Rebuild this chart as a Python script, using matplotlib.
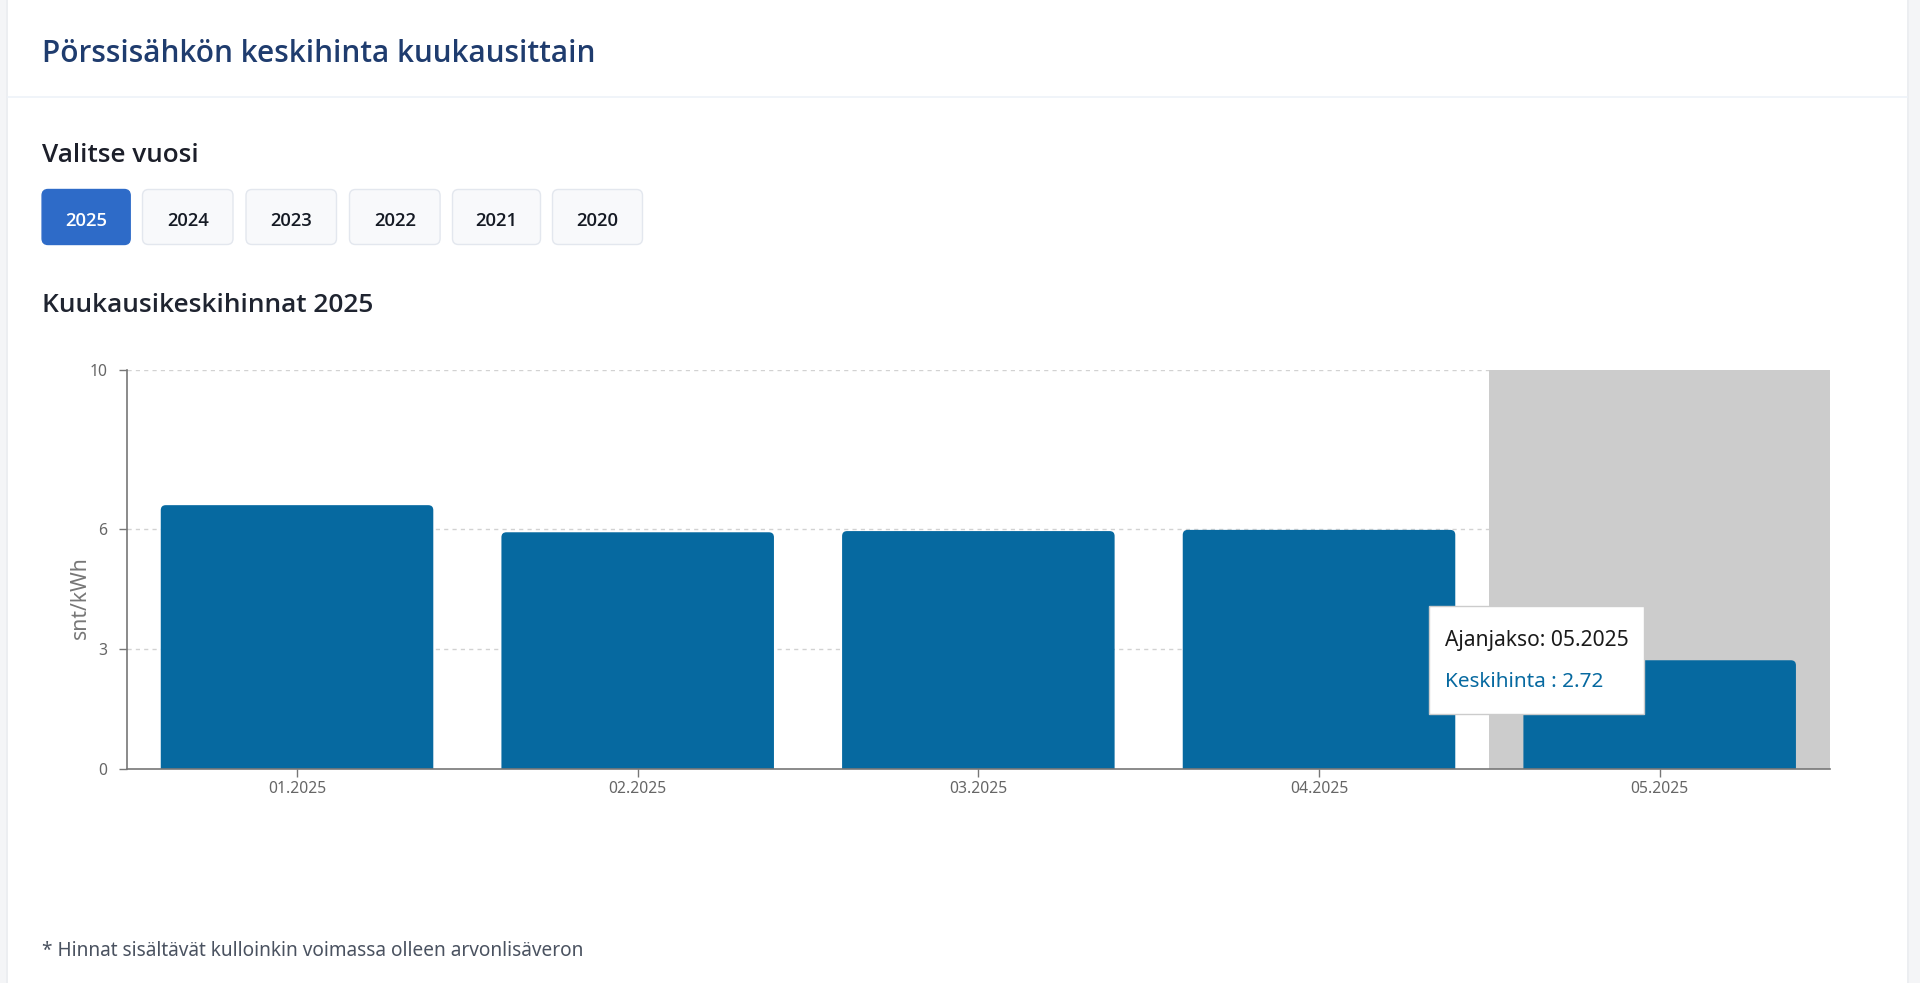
import matplotlib
matplotlib.use("Agg")
import matplotlib.pyplot as plt
from matplotlib import font_manager as fm
from matplotlib.patches import FancyBboxPatch, Rectangle

plt.rcParams['font.family'] = ['Noto Sans', 'DejaVu Sans']

# Monthly average spot price, c/kWh (VAT included)
months = ["01.2025", "02.2025", "03.2025", "04.2025", "05.2025"]
avg_price = [6.61, 5.93, 5.96, 5.99, 2.72]
y_ticks = [0, 3, 6, 10]
years = ["2025", "2024", "2023", "2022", "2021", "2020"]
selected_year = "2025"
active_month = "05.2025"

page_title = "Pörssisähkön keskihinta kuukausittain"
year_label = "Valitse vuosi"
chart_title = f"Kuukausikeskihinnat {selected_year}"
unit_label = "snt/kWh"
footnote = "* Hinnat sisältävät kulloinkin voimassa olleen arvonlisäveron"

BAR = "#0669a0"
GREY_TXT = "#666666"


def pick_semibold():
    """Return (family, weight) for a semibold face if one is installed."""
    for fam in ["Noto Sans", "Open Sans", "Lato", "Inter", "Roboto"]:
        for f in fm.fontManager.ttflist:
            w = f.weight if isinstance(f.weight, int) else fm.weight_dict.get(f.weight, 400)
            if f.name == fam and f.style == "normal" and 560 <= w <= 640:
                return fam, w
    return "Noto Sans", "bold"


SB_FAM, SB_W = pick_semibold()
SB = dict(family=[SB_FAM, "DejaVu Sans"], fontweight=SB_W)

W, H = 1920, 983
fig = plt.figure(figsize=(W / 100, H / 100), dpi=100)
fig.patch.set_facecolor("#f4f5f7")
renderer = fig.canvas.get_renderer()


def fit_width(t, target):
    w = t.get_window_extent(renderer).width
    t.set_fontsize(t.get_fontsize() * target / w)
    return t


# ---- page layer (pixel coordinates, y down) ----
bg = fig.add_axes([0, 0, 1, 1], zorder=0)
bg.set_xlim(0, W)
bg.set_ylim(H, 0)
bg.axis("off")
bg.add_patch(Rectangle((6, 0), 1903, H, facecolor="#eceef1", lw=0))
bg.add_patch(Rectangle((8, 0), 1898.7, H, facecolor="white", lw=0))
bg.plot([8, 1906.7], [96.7, 96.7], color="#edf2f8", lw=1.2)

t = bg.text(41.6, 61.7, page_title, color="#1f3c6e", fontsize=22,
            va="baseline", ha="left", **SB)
fit_width(t, 551)
t = bg.text(41.6, 161.7, year_label, color="#1c1f2a", fontsize=14,
            va="baseline", ha="left", **SB)
fit_width(t, 158)

btn_x = [(41.6, 130.7), (142, 233.5), (245.5, 337), (349, 440.6), (452, 541), (552, 643)]
for yr, (x0, x1) in zip(years, btn_x):
    active = yr == selected_year
    bg.add_patch(FancyBboxPatch((x0 + 0.5, 189.5), x1 - x0 - 1, 55,
                                boxstyle="round,pad=0,rounding_size=6",
                                facecolor="#2e6bc8" if active else "#f8f9fb",
                                edgecolor="#2e6bc8" if active else "#e3e7ee",
                                lw=1))
    t = bg.text((x0 + x1) / 2, 225.7, yr, color="white" if active else "#151a24",
                fontsize=13, ha="center", va="baseline", **SB)
    fit_width(t, 42)

t = bg.text(41.6, 311.7, chart_title, color="#1f2430", fontsize=17,
            va="baseline", ha="left", **SB)
fit_width(t, 332)

t = bg.text(80, 598, unit_label, color="#777777", fontsize=13, rotation=90,
            ha="center", va="center")
ext = t.get_window_extent(renderer)
t.set_fontsize(t.get_fontsize() * 83 / ext.height)

t = bg.text(41.6, 956, footnote, color="#4a5260", fontsize=12,
            va="baseline", ha="left")
fit_width(t, 540)

# ---- chart ----
ax_l, ax_r, ax_t, ax_b = 126.7, 1830, 370, 768.7
ax = fig.add_axes([ax_l / W, 1 - ax_b / H, (ax_r - ax_l) / W, (ax_b - ax_t) / H], zorder=1)
ax.patch.set_alpha(0)
ax.set_xlim(-0.5, len(months) - 0.5)
ax.set_ylim(0, 10)

idx = months.index(active_month)
ax.axvspan(idx - 0.5, idx + 0.5, color="#cccccc", lw=0, zorder=1)
for v in y_ticks[1:]:
    ax.axhline(v, color="#d2d2d2", lw=1, ls=(0, (3, 3)), zorder=0.5)

xs = list(range(len(months)))
bars = ax.bar(xs, avg_price, width=0.8, color=BAR, zorder=2)
px_x = (ax_r - ax_l) / len(months)
px_y = (ax_b - ax_t) / 10
r_px = 5
for b in bars:
    b.set_visible(False)
    ax.add_patch(FancyBboxPatch((b.get_x(), -1), b.get_width(), b.get_height() + 1,
                                boxstyle=f"round,pad=0,rounding_size={r_px / px_x}",
                                mutation_aspect=px_x / px_y,
                                facecolor=BAR, edgecolor="none", zorder=2))

for s in ("top", "right"):
    ax.spines[s].set_visible(False)
for s in ("left", "bottom"):
    ax.spines[s].set_color("#777777")
    ax.spines[s].set_linewidth(1.2)
    ax.spines[s].set_zorder(3)

ax.set_yticks(y_ticks)
ax.set_xticks(xs, months)
ax.tick_params(axis="y", length=6, width=1, color="#777777", labelcolor=GREY_TXT,
               labelsize=11.3, pad=8)
ax.tick_params(axis="x", length=6, width=1, color="#777777", labelcolor=GREY_TXT,
               labelsize=11.3, pad=3)

# ---- tooltip ----
ov = fig.add_axes([0, 0, 1, 1], zorder=3)
ov.set_xlim(0, W)
ov.set_ylim(H, 0)
ov.axis("off")
ov.patch.set_alpha(0)
ov.add_patch(Rectangle((1429.3, 605.7), 215, 108.3, facecolor="white",
                       edgecolor="#cccccc", lw=1))
t = ov.text(1445, 646, f"Ajanjakso: {active_month}", color="#1a1a1a", fontsize=13,
            va="baseline", ha="left")
fit_width(t, 184)
t = ov.text(1445, 686.7, f"Keskihinta : {avg_price[idx]:.2f}", color=BAR, fontsize=13,
            va="baseline", ha="left")
fit_width(t, 159)

fig.savefig("out.png", dpi=100, facecolor=fig.get_facecolor())
